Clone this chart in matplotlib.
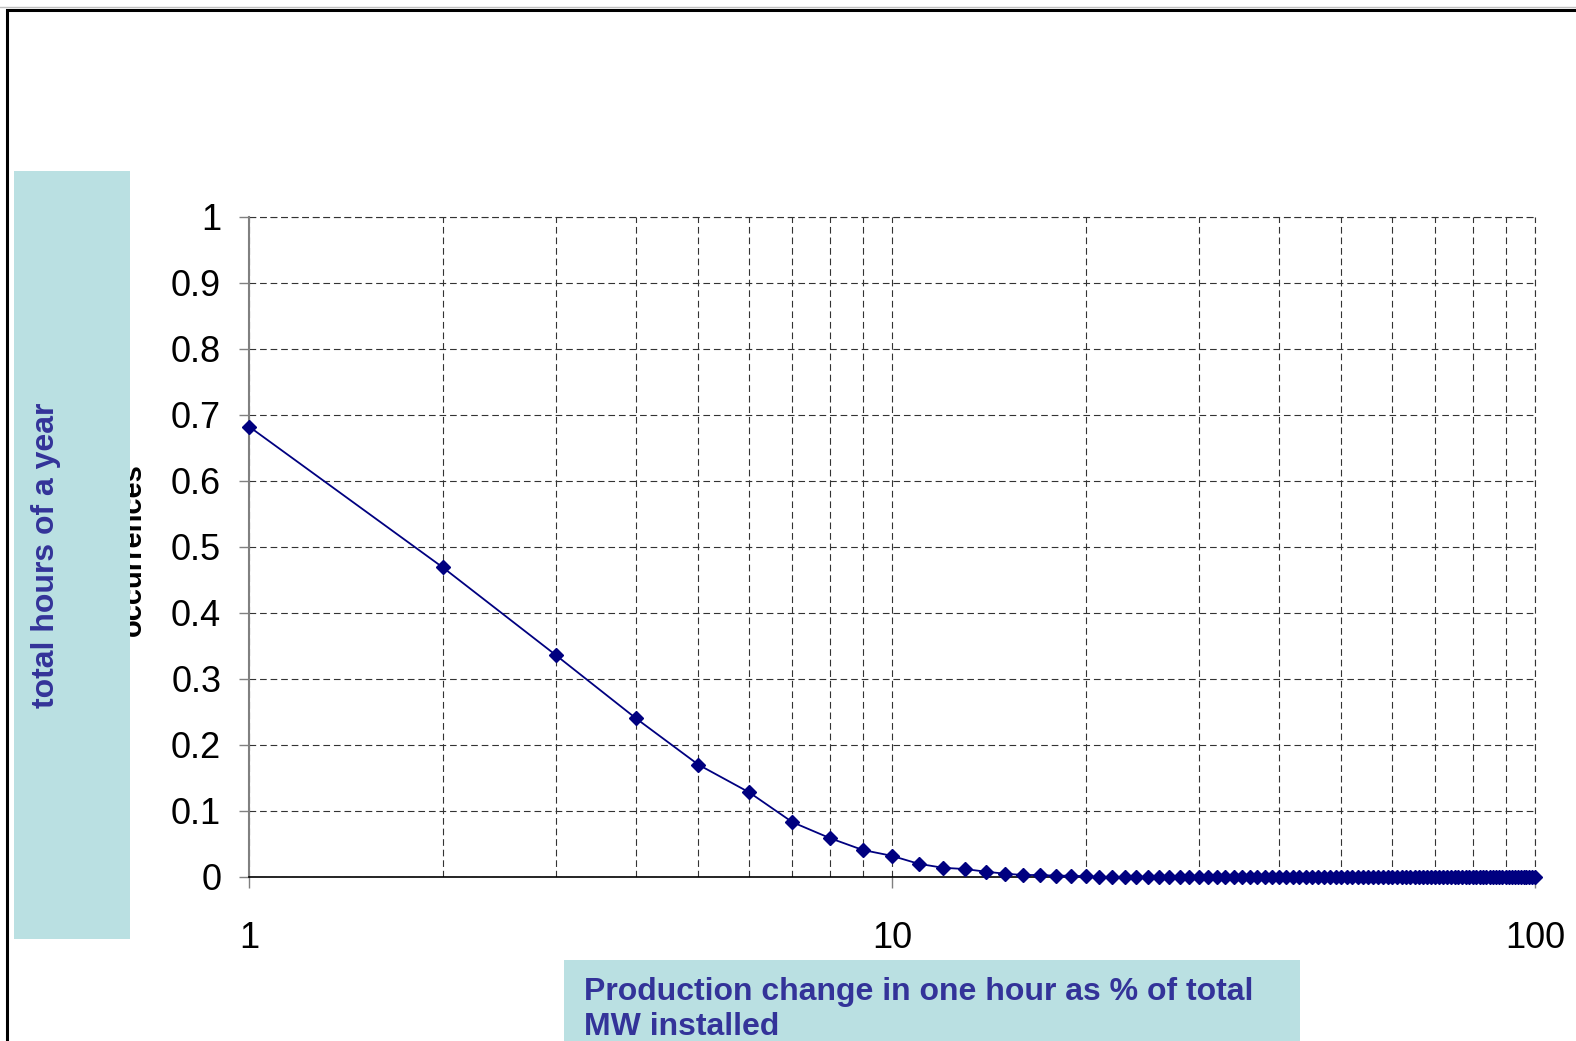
import matplotlib
matplotlib.use("Agg")
import matplotlib.pyplot as plt
from matplotlib.patches import Rectangle
from matplotlib.ticker import LogLocator, FixedLocator, NullFormatter

plt.rcParams['font.family'] = ['Liberation Sans', 'DejaVu Sans']

# ---- data ----
change_pct = [1, 2, 3, 4, 5, 6, 7, 8, 9, 10,
              11, 12, 13, 14, 15, 16, 17, 18, 19, 20,
              21, 22, 23, 24, 25, 26, 27, 28, 29, 30,
              31, 32, 33, 34, 35, 36, 37, 38, 39, 40,
              41, 42, 43, 44, 45, 46, 47, 48, 49, 50,
              51, 52, 53, 54, 55, 56, 57, 58, 59, 60,
              61, 62, 63, 64, 65, 66, 67, 68, 69, 70,
              71, 72, 73, 74, 75, 76, 77, 78, 79, 80,
              81, 82, 83, 84, 85, 86, 87, 88, 89, 90,
              91, 92, 93, 94, 95, 96, 97, 98, 99, 100]
share_hours = [0.682, 0.469, 0.336, 0.240, 0.170, 0.128, 0.083, 0.059, 0.041, 0.032,
               0.020, 0.014, 0.012, 0.008, 0.005, 0.003, 0.003, 0.002, 0.002, 0.001,
               0, 0, 0, 0, 0, 0, 0, 0, 0, 0,
               0, 0, 0, 0, 0, 0, 0, 0, 0, 0,
               0, 0, 0, 0, 0, 0, 0, 0, 0, 0,
               0, 0, 0, 0, 0, 0, 0, 0, 0, 0,
               0, 0, 0, 0, 0, 0, 0, 0, 0, 0,
               0, 0, 0, 0, 0, 0, 0, 0, 0, 0,
               0, 0, 0, 0, 0, 0, 0, 0, 0, 0,
               0, 0, 0, 0, 0, 0, 0, 0, 0, 0]
y_ticks = [0, 0.1, 0.2, 0.3, 0.4, 0.5, 0.6, 0.7, 0.8, 0.9, 1]
y_tick_labels = ['0', '0.1', '0.2', '0.3', '0.4', '0.5', '0.6', '0.7', '0.8', '0.9', '1']
x_ticks = [1, 10, 100]
x_tick_labels = ['1', '10', '100']
x_label = "Production change in one hour as % of total\nMW installed"
y_label = "total hours of a year"
hidden_label = "occurrences"

W, H = 1576, 1041
fig = plt.figure(figsize=(W / 100, H / 100), dpi=100)
fig.patch.set_facecolor('white')

def fx(px):
    return px / W

def fy(py):
    return 1 - py / H

ax = fig.add_axes([fx(249), fy(877), fx(1535) - fx(249), fy(216.5) - fy(877)])
ax.set_xscale('log')
ax.plot(change_pct, share_hours, color='#000080', linewidth=1.3,
        marker='D', markersize=7.5, markeredgecolor='#000080',
        markerfacecolor='#000080', clip_on=False, zorder=5)
ax.set_xlim(1, 100)
ax.set_ylim(0, 1)

ax.xaxis.set_major_locator(FixedLocator(x_ticks))
ax.set_xticklabels(x_tick_labels)
ax.xaxis.set_minor_locator(LogLocator(base=10, subs=[2, 3, 4, 5, 6, 7, 8, 9]))
ax.xaxis.set_minor_formatter(NullFormatter())
ax.set_yticks(y_ticks)
ax.set_yticklabels(y_tick_labels)

grid_kw = dict(color='#333333', linewidth=0.8, linestyle=(0, (6, 3.5)))
ax.grid(True, which='both', axis='x', **grid_kw)
ax.grid(True, which='major', axis='y', **grid_kw)
ax.axvline(x_ticks[-1], clip_on=False, zorder=0.5, **grid_kw)
ax.axhline(y_ticks[-1], clip_on=False, zorder=0.5, **grid_kw)
ax.set_axisbelow(True)

for s in ['top', 'right']:
    ax.spines[s].set_visible(False)
ax.spines['left'].set_color('#808080')
ax.spines['left'].set_linewidth(1.5)
ax.spines['bottom'].set_color('black')
ax.spines['bottom'].set_linewidth(1.2)

ax.tick_params(axis='y', direction='out', length=7, width=1, color='#808080',
               labelsize=26, pad=13)
ax.tick_params(axis='x', which='major', direction='out', length=8, width=1,
               color='#808080', labelsize=26, pad=24)
ax.tick_params(axis='x', which='minor', length=0)

# frame around the chart area
fig.patches.append(Rectangle((fx(7), fy(1100)), fx(1700) - fx(7), fy(10) - fy(1100),
                             transform=fig.transFigure, fill=False,
                             edgecolor='black', linewidth=2.2, zorder=0))
fig.add_artist(plt.Line2D([0, 1], [fy(7), fy(7)], transform=fig.transFigure,
                          color='#c0c0c0', linewidth=1, zorder=0))

# axis title partially covered by the label box
fig.text(fx(147), fy(550), hidden_label, rotation=90, ha='right', va='center',
         fontsize=21, fontweight='bold', color='black', zorder=1)

box_color = '#BAE0E2'
fig.patches.append(Rectangle((fx(14), fy(939)), fx(130) - fx(14), fy(171) - fy(939),
                             transform=fig.transFigure, facecolor=box_color,
                             edgecolor='none', zorder=2))
fig.patches.append(Rectangle((fx(564), fy(1060)), fx(1300) - fx(564), fy(960) - fy(1060),
                             transform=fig.transFigure, facecolor=box_color,
                             edgecolor='none', zorder=2))

fig.text(fx(46), fy(555), y_label, rotation=90, ha='center', va='center',
         fontsize=23, fontweight='bold', color='#333399', zorder=3)
fig.text(fx(584), fy(977), x_label, ha='left', va='top', linespacing=1.22,
         fontsize=23, fontweight='bold', color='#333399', zorder=3)

fig.savefig('out.png', dpi=100)
